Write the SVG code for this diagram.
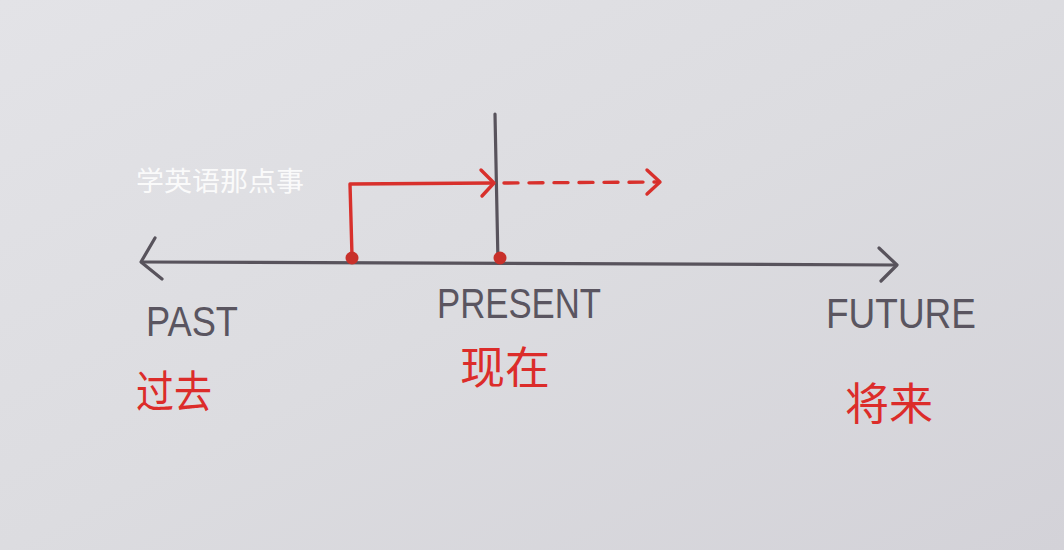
<svg xmlns="http://www.w3.org/2000/svg" width="1064" height="550" viewBox="0 0 1064 550">
<defs>
<linearGradient id="paper" x1="0" y1="0" x2="1" y2="1">
<stop offset="0" stop-color="#e3e3e7"/>
<stop offset="0.5" stop-color="#dcdce0"/>
<stop offset="1" stop-color="#d3d2d8"/>
</linearGradient>
<style>
.ink{stroke:#58535c;stroke-width:3.2;fill:none;stroke-linecap:round;stroke-linejoin:round}
.red{stroke:#d8302c;stroke-width:3.4;fill:none;stroke-linecap:round;stroke-linejoin:round}
.dash{stroke-dasharray:14 11}
.lbl{font-family:"Liberation Sans","DejaVu Sans",sans-serif;fill:#5a5560;font-size:42px}
.cn{font-family:"Noto Sans CJK SC",sans-serif;fill:#dc2c2a;font-size:44px}
.wm{font-family:"Noto Sans CJK SC",sans-serif;fill:#ffffff;fill-opacity:0.85;font-size:27px}
</style>
</defs>
<rect width="1064" height="550" fill="url(#paper)"/>
<text class="wm" x="136" y="191" textLength="168" lengthAdjust="spacingAndGlyphs">学英语那点事</text>
<g id="connectors">
<path class="ink" d="M142 262 L896 265"/>
<path class="ink" d="M155 238 L141 262 L162 279"/>
<path class="ink" d="M879 248 L897 265 L881 281"/>
<path class="ink" d="M495 114 L498 263"/>
<path class="red" d="M352 256 L350 184 L493 183"/>
<path class="red" d="M481 170 L494 183 L482 196"/>
<path class="red dash" d="M504 183 L657 182"/>
<path class="red" d="M647 170 L660 182 L647 194"/>
</g>
<g id="dot-past"><circle cx="352" cy="258" r="6.5" fill="#c8302a"/></g>
<g id="dot-present"><circle cx="500" cy="258" r="6.5" fill="#c8302a"/></g>
<g id="past">
<text class="lbl" x="146" y="336" textLength="92" lengthAdjust="spacingAndGlyphs">PAST</text>
<text class="cn" x="136" y="408" textLength="76" lengthAdjust="spacingAndGlyphs">过去</text>
</g>
<g id="present">
<text class="lbl" x="437" y="318" textLength="164" lengthAdjust="spacingAndGlyphs">PRESENT</text>
<text class="cn" x="460" y="384" textLength="90" lengthAdjust="spacingAndGlyphs">现在</text>
</g>
<g id="future">
<text class="lbl" x="826" y="328" textLength="150" lengthAdjust="spacingAndGlyphs">FUTURE</text>
<text class="cn" x="845" y="420" textLength="88" font-size="50" lengthAdjust="spacingAndGlyphs">将来</text>
</g>
</svg>
